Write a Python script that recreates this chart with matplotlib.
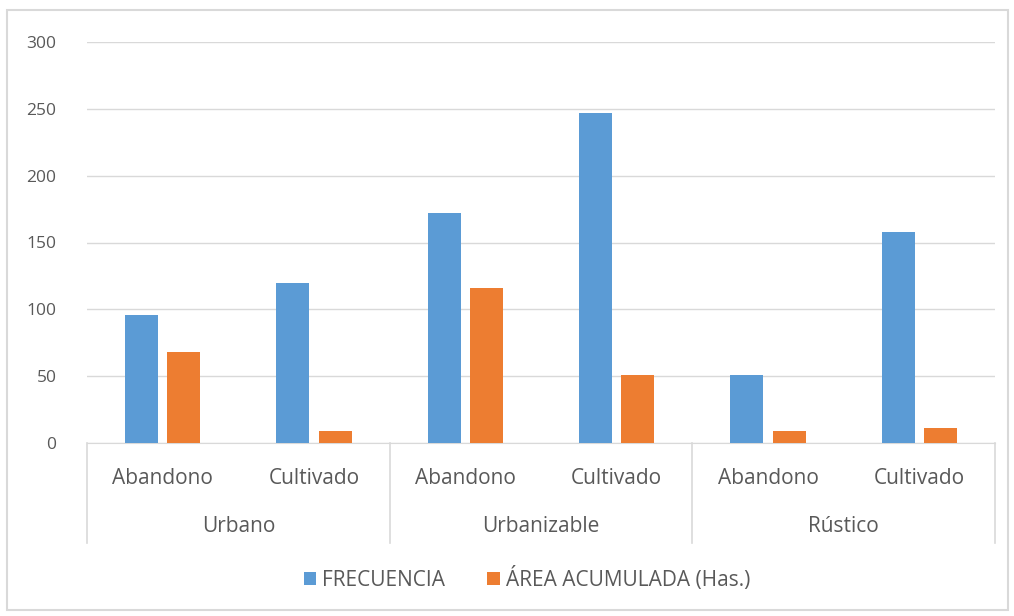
import matplotlib.pyplot as plt
import numpy as np

# grouped data
groups = ["Urbano", "Urbanizable", "Rústico"]
subcats = ["Abandono", "Cultivado", "Abandono", "Cultivado", "Abandono", "Cultivado"]
frecuencia = [96, 120, 172, 247, 51, 158]
area_acum = [68, 9, 116, 51, 9, 11]

blue = "#5B9BD5"
orange = "#ED7D31"
grey_txt = "#595959"
grid_c = "#D9D9D9"

plt.rcParams['font.family'] = ['Open Sans', 'DejaVu Sans']

fig = plt.figure(figsize=(10.14, 6.16), dpi=100)
ax = fig.add_axes([87/1014, 1 - 443/616, 908/1014, 401/616])

x = np.arange(len(subcats))
w = 0.218
ax.bar(x - 0.14, frecuencia, w, color=blue, label="FRECUENCIA", zorder=3)
ax.bar(x + 0.14, area_acum, w, color=orange, label="ÁREA ACUMULADA (Has.)", zorder=3)

ax.set_xlim(-0.5, len(subcats) - 0.5)
ax.set_ylim(0, 300)
ax.set_yticks(range(0, 301, 50))
ax.yaxis.grid(True, color=grid_c, lw=1, zorder=0)
ax.tick_params(axis='y', length=0, pad=22, labelsize=12.5, labelcolor=grey_txt)
ax.set_xticks([])
for s in ["left", "right", "top"]:
    ax.spines[s].set_visible(False)
ax.spines["bottom"].set_color(grid_c)

# sub category labels
for i, lab in enumerate(subcats):
    ax.annotate(lab, (i, 0), xytext=(0, -36), textcoords='offset pixels',
                ha='center', va='center', fontsize=15, color=grey_txt,
                annotation_clip=False)

# group labels and dividers
for g, name in enumerate(groups):
    ax.annotate(name, (2 * g + 0.5, 0), xytext=(0, -83), textcoords='offset pixels',
                ha='center', va='center', fontsize=15, color=grey_txt,
                annotation_clip=False)
for b in [-0.5, 1.5, 3.5, 5.5]:
    ax.plot([b, b], [0, -100 / 401 * 300], color=grid_c, lw=1.2, clip_on=False)

# outer frame
fig.patches.append(plt.Rectangle((7/1014, 6/616), 1001/1014, 600/616, transform=fig.transFigure,
                                 fill=False, edgecolor=grid_c, lw=1.5))

leg = fig.legend(loc='center', bbox_to_anchor=(527/1014, 1 - 579/616), ncol=2, frameon=False,
                 fontsize=15, handlelength=0.6, handleheight=0.6, handletextpad=0.3,
                 columnspacing=2.0)
for t in leg.get_texts():
    t.set_color(grey_txt)

fig.savefig("out.png", dpi=100)
